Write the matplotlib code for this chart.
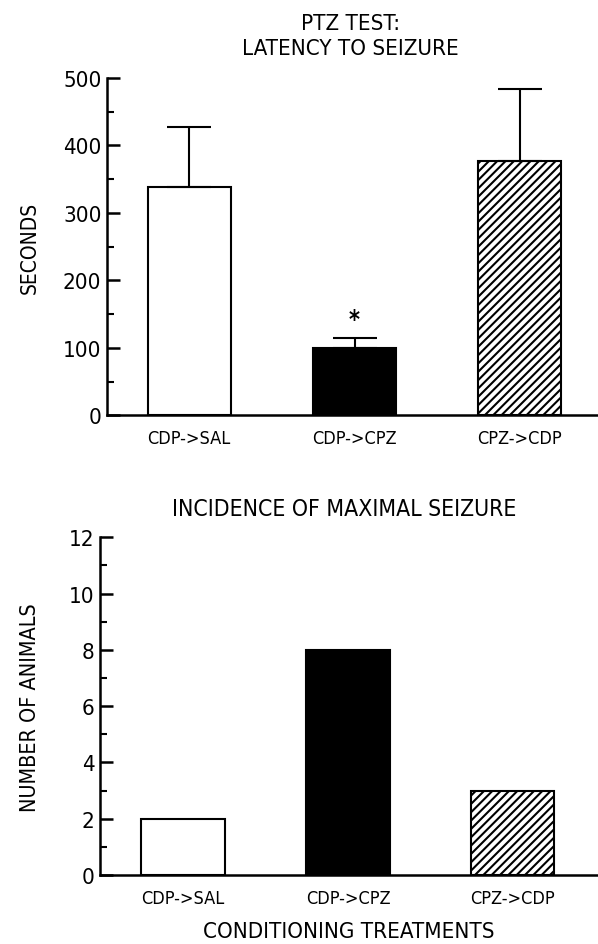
import matplotlib
matplotlib.use('Agg')
import matplotlib.pyplot as plt
from matplotlib import font_manager as fm
from matplotlib.ticker import MultipleLocator

groups = ['CDP->SAL', 'CDP->CPZ', 'CPZ->CDP']
latency = [339, 99, 377]
latency_sem = [88, 15, 107]
incidence = [2, 8, 3]
fills = ['white', 'black', 'white']
hatches = ['', '', '////']

# the original lettering is a tall narrow sans; use a condensed face if one is installed
narrow = [f for f in fm.fontManager.ttflist
          if f.style == 'normal' and f.weight in (400, 'normal')
          and ('Narrow' in f.name or 'Condensed' in f.name or 'condensed' in str(f.stretch))]
if narrow:
  plt.rcParams['font.family'] = [narrow[0].name, 'DejaVu Sans']
  plt.rcParams['font.stretch'] = narrow[0].stretch
else:
  plt.rcParams['font.family'] = ['DejaVu Sans']
plt.rcParams['hatch.linewidth'] = 1.5

fig = plt.figure(figsize=(5.98, 9.45), dpi=100)

def style(ax):
  for s in ('top', 'right'):
    ax.spines[s].set_visible(False)
  for s in ('left', 'bottom'):
    ax.spines[s].set_linewidth(1.8)
  ax.tick_params(axis='y', which='major', direction='in', length=9, width=1.8, labelsize=16, pad=4)
  ax.tick_params(axis='y', which='minor', direction='in', length=5, width=1.5)
  ax.tick_params(axis='x', length=0, labelsize=13, pad=10)

# top panel
ax1 = fig.add_axes([0.179, 0.5595, 0.821, 0.357])
pos = range(len(groups))
ax1.bar(pos, latency, width=0.5, color=fills, edgecolor='black', linewidth=1.5, hatch=hatches)
ax1.errorbar(list(pos), latency, yerr=[[0] * 3, latency_sem], fmt='none',
             ecolor='black', elinewidth=1.5, capsize=16, capthick=1.5)
ax1.text(1, 143, '*', ha='center', va='center', fontsize=17, fontweight='bold')
ax1.set_xlim(-0.497, 2.473)
ax1.set_ylim(0, 500)
ax1.yaxis.set_major_locator(MultipleLocator(100))
ax1.yaxis.set_minor_locator(MultipleLocator(50))
ax1.set_xticks(list(pos))
ax1.set_xticklabels(groups)
ax1.set_ylabel('SECONDS', fontsize=15, labelpad=17)
ax1.set_title('PTZ TEST:\nLATENCY TO SEIZURE', fontsize=16, pad=17, x=0.496, linespacing=1.3)
style(ax1)

# bottom panel
ax2 = fig.add_axes([0.167, 0.073, 0.833, 0.3574])
ax2.bar(pos, incidence, width=0.505, color=fills, edgecolor='black', linewidth=1.5, hatch=hatches)
ax2.set_xlim(-0.505, 2.517)
ax2.set_ylim(0, 12)
ax2.yaxis.set_major_locator(MultipleLocator(2))
ax2.yaxis.set_minor_locator(MultipleLocator(1))
ax2.set_xticks(list(pos))
ax2.set_xticklabels(groups)
ax2.set_ylabel('NUMBER OF ANIMALS', fontsize=15.5, labelpad=21)
ax2.set_xlabel('CONDITIONING TREATMENTS', fontsize=16, labelpad=10)
ax2.set_title('INCIDENCE OF MAXIMAL SEIZURE', fontsize=16.5, pad=16, x=0.49)
style(ax2)

fig.savefig('out.png', dpi=100)
